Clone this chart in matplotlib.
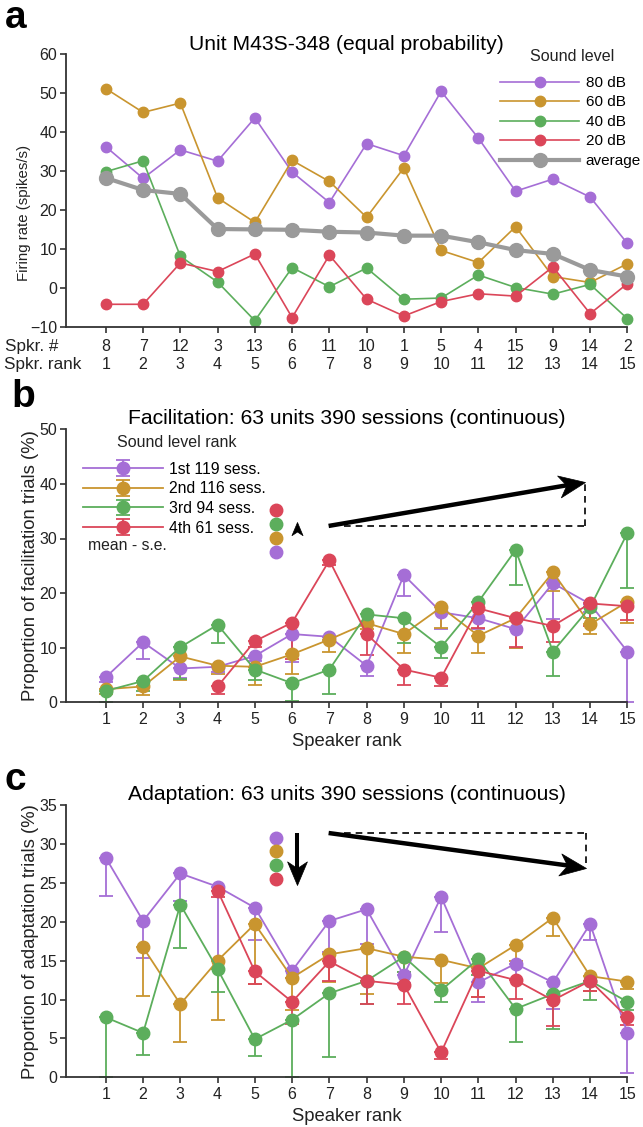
import numpy as np
import matplotlib
matplotlib.use('Agg')
import matplotlib.pyplot as plt
from matplotlib.lines import Line2D
from matplotlib.markers import MarkerStyle
from matplotlib.path import Path
from matplotlib.transforms import Affine2D

plt.rcParams['font.family'] = ['Liberation Sans', 'DejaVu Sans']

nan = np.nan

RANKS = np.arange(1, 16)
SPKR_NUM = [8, 7, 12, 3, 13, 6, 11, 10, 1, 5, 4, 15, 9, 14, 2]

# (a) single unit, firing rate per speaker at each sound level
RATE_80 = [36.3, 28.2, 35.5, 32.6, 43.7, 29.8, 22.0, 37.1, 34.0, 50.5, 38.5, 24.9, 28.0, 23.4, 11.5]
RATE_60 = [51.2, 45.1, 47.5, 23.2, 16.9, 32.8, 27.4, 18.2, 30.9, 9.7, 6.6, 15.8, 3.0, 1.5, 6.3]
RATE_40 = [29.9, 32.7, 8.2, 1.6, -8.3, 5.3, 0.4, 5.2, -2.8, -2.5, 3.4, 0.2, -1.5, 1.0, -7.8]
RATE_20 = [-4.1, -4.1, 6.5, 4.3, 8.8, -7.5, 8.5, -2.8, -7.1, -3.4, -1.4, -2.0, 5.5, -6.5, 1.2]
RATE_AVG = [28.3, 25.2, 24.2, 15.2, 15.1, 15.0, 14.5, 14.3, 13.5, 13.5, 11.8, 9.8, 8.8, 4.7, 3.0]

# (b) facilitation, mean and s.e. per sound level rank
FAC_1 = [4.6, 11.0, 6.2, 6.5, 8.5, 12.5, 12.0, 6.7, 23.3, 16.5, 15.4, 13.4, 21.8, 18.0, 9.3]
FAC_1_SE = [0.8, 3.1, 1.8, 1.0, 1.0, 5.1, 1.0, 1.8, 3.8, 3.0, 2.0, 3.5, 6.5, 1.5, 9.3]
FAC_2 = [2.4, 2.9, 8.4, 6.7, 6.5, 8.8, 11.5, 14.5, 12.5, 17.4, 12.2, 15.4, 23.8, 14.3, 18.4]
FAC_2_SE = [0.8, 1.6, 4.3, 1.5, 3.4, 3.7, 2.2, 1.0, 3.5, 3.8, 3.2, 5.5, 3.5, 1.7, 3.9]
FAC_3 = [2.1, 3.9, 10.1, 14.2, 6.0, 3.5, 6.0, 16.1, 15.4, 10.1, 18.4, 27.9, 9.3, 17.4, 31.0]
FAC_3_SE = [2.1, 1.9, 5.9, 3.3, 2.0, 3.3, 4.4, 2.0, 4.6, 1.9, 3.0, 6.4, 4.5, 2.0, 10.1]
FAC_4 = [nan, nan, nan, 2.9, 11.2, 14.6, 26.0, 12.5, 6.0, 4.5, 17.2, 15.4, 14.0, 18.1, 17.6]
FAC_4_SE = [nan, nan, nan, 1.3, 1.0, 6.6, 0.8, 3.8, 2.8, 1.6, 3.6, 5.2, 2.9, 4.2, 2.5]

# (c) adaptation, mean and s.e. per sound level rank
ADA_1 = [28.2, 20.1, 26.2, 24.5, 21.8, 13.7, 20.1, 21.6, 13.1, 23.2, 12.2, 14.6, 12.2, 19.7, 5.7]
ADA_1_SE = [4.9, 4.8, 3.5, 9.4, 4.1, 1.0, 4.0, 4.5, 1.0, 4.5, 2.5, 2.0, 3.4, 2.1, 5.2]
ADA_2 = [nan, 16.7, 9.4, 15.0, 19.7, 12.8, 15.8, 16.6, 15.5, 15.1, 14.0, 17.0, 20.5, 13.0, 12.3]
ADA_2_SE = [nan, 6.2, 4.8, 7.6, 7.7, 4.2, 3.5, 5.9, 2.0, 3.0, 3.7, 2.0, 2.4, 1.9, 1.0]
ADA_3 = [7.7, 5.7, 22.2, 13.9, 4.9, 7.4, 10.8, 12.4, 15.5, 11.2, 15.2, 8.8, 10.7, 12.4, 9.7]
ADA_3_SE = [7.7, 2.8, 5.6, 3.0, 2.1, 7.4, 8.2, 3.0, 2.0, 1.5, 2.0, 4.2, 4.5, 2.5, 1.0]
ADA_4 = [nan, nan, nan, 24.0, 13.6, 9.7, 14.9, 12.4, 11.9, 3.2, 13.7, 12.5, 9.9, 12.4, 7.7]
ADA_4_SE = [nan, nan, nan, 0.8, 1.6, 2.8, 2.5, 3.0, 2.5, 0.9, 3.4, 2.4, 3.3, 1.3, 1.0]

LEVEL_LABELS = ['80 dB', '60 dB', '40 dB', '20 dB']
RANK_LABELS = ['1st 119 sess.', '2nd 116 sess.', '3rd 94 sess.', '4th 61 sess.']

PURPLE = '#A56ED6'
ORANGE = '#C9952F'
GREEN = '#5CAE5C'
RED = '#DB4659'
GRAY = '#9A9A9A'
COLORS = [PURPLE, ORANGE, GREEN, RED]

W, H = 643, 1127
AX_LEFT, AX_RIGHT = 65.6, 627.4
TEXT = '#222222'
SPINE = '#333333'

# barbed arrowhead, tip at the origin pointing along +x
HEAD = Path([(0, 0), (-1, 0.42), (-0.72, 0), (-1, -0.42), (0, 0)],
            [Path.MOVETO, Path.LINETO, Path.LINETO, Path.LINETO, Path.CLOSEPOLY])


def make_axes(fig, top, bottom):
    ax = fig.add_axes([AX_LEFT / W, 1 - bottom / H,
                       (AX_RIGHT - AX_LEFT) / W, (bottom - top) / H])
    ax.set_xlim(-0.08, 15)
    for side in ('top', 'right'):
        ax.spines[side].set_visible(False)
    for side in ('left', 'bottom'):
        ax.spines[side].set_color(SPINE)
        ax.spines[side].set_linewidth(1.3)
    ax.tick_params(direction='out', length=4, width=1.2, color=SPINE,
                   labelsize=11.5, labelcolor=TEXT, pad=2)
    ax.tick_params(axis='x', pad=3)
    return ax


def plot_unit(ax):
    for vals, c in zip([RATE_80, RATE_60, RATE_40, RATE_20], COLORS):
        ax.plot(RANKS, vals, '-o', color=c, lw=1.2, ms=7.5, mec=c, clip_on=False)
    ax.plot(RANKS, RATE_AVG, '-o', color=GRAY, lw=3, ms=10, mec=GRAY, clip_on=False)

    ax.set_ylim(-10, 60)
    ax.set_yticks(range(-10, 61, 10))
    ax.set_xticks(RANKS)
    ax.set_xticklabels([f'{n}\n{r}' for n, r in zip(SPKR_NUM, RANKS)],
                       linespacing=1.2)
    ax.tick_params(axis='x', pad=4.7)
    ax.set_title('Unit M43S-348 (equal probability)', fontsize=15.2, pad=3, color='black')
    ax.set_ylabel('Firing rate (spikes/s)', fontsize=10.8, color=TEXT)
    ax.yaxis.set_label_coords(-0.062, 0.42)

    handles = [Line2D([], [], color=c, lw=1.2, marker='o', ms=7.5, mec=c) for c in COLORS]
    handles.append(Line2D([], [], color=GRAY, lw=3, marker='o', ms=10, mec=GRAY))
    ax.legend(handles, LEVEL_LABELS + ['average'], loc='upper left',
              bbox_to_anchor=((500 - AX_LEFT) / 561.8, 0.921),
              frameon=False, fontsize=11, handlelength=5.2, handletextpad=0.4,
              labelspacing=0.36, borderpad=0, borderaxespad=0)
    ax.text(0.902, 0.991, 'Sound level', transform=ax.transAxes, fontsize=11.6,
            color=TEXT, ha='center', va='center')


def plot_ranked(ax, means, ses, title, ylabel, ylim, step):
    conts = []
    for m, s, c in zip(means, ses, COLORS):
        m = np.asarray(m)
        s = np.asarray(s)
        eb = ax.errorbar(RANKS, m, yerr=[s, np.zeros_like(s)], fmt='-o', color=c,
                         ecolor=c, lw=1.3, elinewidth=1.3, capsize=5, capthick=1.3,
                         ms=9, mec=c, clip_on=False)
        for art in eb.lines[1] + eb.lines[2]:
            art.set_clip_on(False)
        eb.lines[0].set_clip_on(False)
        conts.append(eb)
    ax.set_ylim(*ylim)
    ax.set_yticks(np.arange(ylim[0], ylim[1] + 0.1, step))
    ax.set_xticks(RANKS)
    ax.set_title(title, fontsize=15.2, pad=3.5, color='black')
    ax.set_xlabel('Speaker rank', fontsize=13.3, color=TEXT, labelpad=4)
    ax.set_ylabel(ylabel, fontsize=13.3, color=TEXT)
    ax.yaxis.set_label_coords(-0.048, 0.5)
    return conts


def stacked_dots(ax, ys, colors):
    for y, c in zip(ys, colors):
        ax.plot([5.58], [y], 'o', color=c, ms=9, mec=c, clip_on=False)


def arrow(ax, tail, tip, lw, head_ms):
    """Thick black shaft ending in a barbed head drawn as a rotated marker."""
    p0 = ax.transData.transform(tail)
    p1 = ax.transData.transform(tip)
    d = p1 - p0
    ang = np.degrees(np.arctan2(d[1], d[0]))
    # stop the shaft inside the head so it does not poke out at the tip
    back = 0.3 * head_ms * ax.figure.dpi / 72.0
    end = p1 - d / np.hypot(*d) * back
    end = ax.transData.inverted().transform(end)
    ax.plot([tail[0], end[0]], [tail[1], end[1]], '-', color='black', lw=lw,
            solid_capstyle='butt', clip_on=False)
    mk = MarkerStyle(HEAD, transform=Affine2D().rotate_deg(ang))
    ax.plot([tip[0]], [tip[1]], linestyle='none', marker=mk, ms=head_ms,
            color='black', mec='black', mew=0.5, clip_on=False)


def trend_arrow(ax, tail, tip, corner_y, dash_from):
    ax.plot([dash_from, tip[0]], [corner_y, corner_y], '--', color='black', lw=1.2, dashes=(4, 3))
    ax.plot([tip[0], tip[0]], [corner_y, tip[1]], '--', color='black', lw=1.2, dashes=(4, 3))
    arrow(ax, tail, tip, 3.2, 38)


def main():
    fig = plt.figure(figsize=(W / 100, H / 100), dpi=100)

    ax_a = make_axes(fig, 54.3, 327.3)
    plot_unit(ax_a)
    fig.text(5 / W, 1 - 347 / H, 'Spkr. #', ha='left', va='center', fontsize=12.3, color=TEXT)
    fig.text(4 / W, 1 - 365 / H, 'Spkr. rank', ha='left', va='center', fontsize=12.3, color=TEXT)

    ax_b = make_axes(fig, 429.3, 702.3)
    conts = plot_ranked(ax_b, [FAC_1, FAC_2, FAC_3, FAC_4],
                        [FAC_1_SE, FAC_2_SE, FAC_3_SE, FAC_4_SE],
                        'Facilitation: 63 units 390 sessions (continuous)',
                        'Proportion of facilitation trials (%)', (0, 50), 10)
    ax_b.legend(conts, RANK_LABELS, loc='upper left',
                bbox_to_anchor=((83.3 - AX_LEFT) / 561.8, 0.882), frameon=False,
                fontsize=11.3, handlelength=5.1, handletextpad=0.35,
                labelspacing=0.3, borderpad=0, borderaxespad=0)
    ax_b.text(0.197, 0.952, 'Sound level rank', transform=ax_b.transAxes,
              fontsize=11.5, color=TEXT, ha='center', va='center')
    ax_b.text(0.040, 0.574, 'mean - s.e.', transform=ax_b.transAxes,
              fontsize=11.3, color=TEXT, va='center', ha='left')
    stacked_dots(ax_b, [35.2, 32.7, 30.1, 27.6], [RED, GREEN, ORANGE, PURPLE])
    mk_up = MarkerStyle(HEAD, transform=Affine2D().rotate_deg(90))
    ax_b.plot([6.12], [33.1], linestyle='none', marker=mk_up, ms=19,
              color='black', mec='black', mew=0.5)
    trend_arrow(ax_b, (6.98, 32.3), (13.85, 40.3), 32.3, 7.4)

    ax_c = make_axes(fig, 805, 1077.3)
    plot_ranked(ax_c, [ADA_1, ADA_2, ADA_3, ADA_4],
                [ADA_1_SE, ADA_2_SE, ADA_3_SE, ADA_4_SE],
                'Adaptation: 63 units 390 sessions (continuous)',
                'Proportion of adaptation trials (%)', (0, 35), 5)
    stacked_dots(ax_c, [30.8, 29.1, 27.3, 25.5], [PURPLE, ORANGE, GREEN, RED])
    arrow(ax_c, (6.12, 31.4), (6.12, 24.7), 2.9, 34)
    trend_arrow(ax_c, (6.98, 31.4), (13.9, 26.9), 31.45, 7.4)

    for letter, x, y in [('a', 5, 28), ('b', 11, 407), ('c', 5, 790)]:
        fig.text(x / W, 1 - y / H, letter, fontsize=28, fontweight='bold',
                 ha='left', va='baseline', color='black')

    fig.savefig('out.png', dpi=100)


if __name__ == '__main__':
    main()
